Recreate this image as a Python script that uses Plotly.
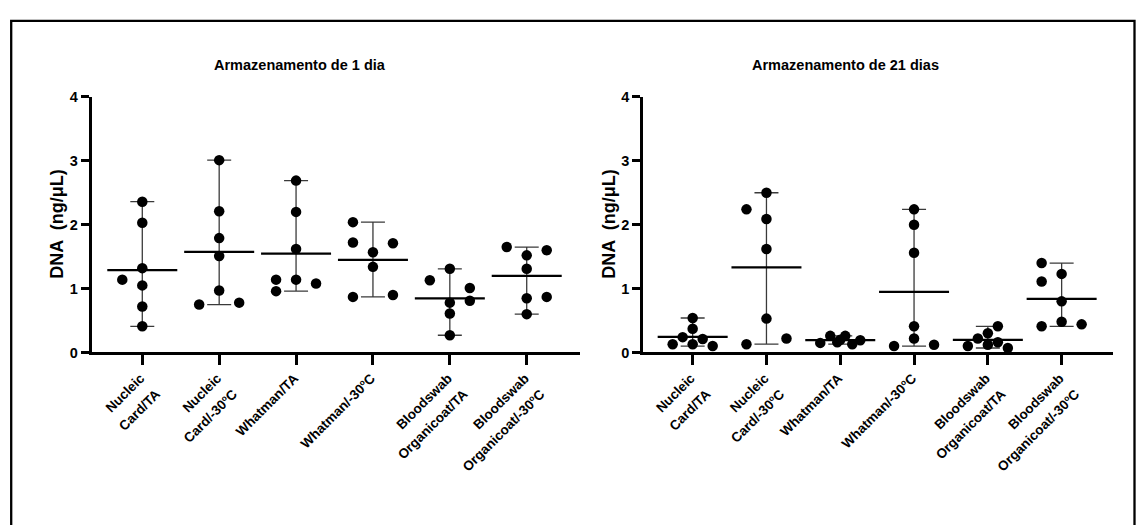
import plotly.graph_objects as go

# ---------------- data ----------------
categories = ["Nucleic<br>Card/TA", "Nucleic<br>Card/-30ºC", "Whatman/TA",
              "Whatman/-30ºC", "Bloodswab<br>Organicoat/TA", "Bloodswab<br>Organicoat/-30ºC"]

dna_1dia = [
    [2.36, 2.03, 1.32, 1.05, 0.72, 0.41, 1.14],
    [3.01, 2.21, 1.79, 1.51, 0.97, 0.75, 0.78],
    [2.69, 2.20, 1.62, 1.14, 1.14, 0.96, 1.08],
    [2.04, 1.72, 1.57, 1.34, 1.71, 0.87, 0.90],
    [1.31, 1.13, 1.01, 0.81, 0.78, 0.61, 0.27],
    [1.65, 1.60, 1.52, 1.31, 0.85, 0.87, 0.60],
]
dna_21dias = [
    [0.54, 0.37, 0.24, 0.21, 0.13, 0.13, 0.10],
    [2.50, 2.24, 2.09, 1.62, 0.53, 0.13, 0.22],
    [0.15, 0.26, 0.16, 0.26, 0.13, 0.19, 0.20],
    [2.24, 2.00, 1.56, 0.41, 0.22, 0.10, 0.12],
    [0.41, 0.30, 0.22, 0.16, 0.12, 0.10, 0.07],
    [1.40, 1.23, 1.11, 0.80, 0.41, 0.48, 0.44],
]

# scatter-dot column layout (dot columns, one column = 10 px)
cols_1dia = [
    [0, 0, 0, 0, 0, 0, -2],
    [0, 0, 0, 0, 0, -2, 2],
    [0, 0, 0, 0, -2, -2, 2],
    [-2, -2, 0, 0, 2, -2, 2],
    [0, -2, 2, 2, 0, 0, 0],
    [-2, 2, 0, 0, 0, 2, 0],
]
cols_21dias = [
    [0, 0, -1, 1, -2, 0, 2],
    [0, -2, 0, 0, 0, -2, 2],
    [-2, -1, -0.3, 0.5, 1.2, 2, 0],
    [0, 0, 0, 0, 0, -2, 2],
    [1, 0, -1, 1, 0, -2, 2],
    [-2, 0, -2, 0, -2, 0, 2],
]

titles = ["Armazenamento de 1 dia", "Armazenamento de 21 dias"]
y_title = "DNA  (ng/μL)"
y_ticks = [0, 1, 2, 3, 4]

# ---------------- layout constants ----------------
W, H = 1136, 525
FONT = "Liberation Sans, Arial, sans-serif"
LABEL_PX = 13.5      # glyph size of category labels
LABEL_LINE_PX = 17   # base size -> controls line spacing of two-line labels

def px_x(p):
    return p / W

def px_y(p):
    return 1 - p / H

panels = [
    dict(data=dna_1dia, cols=cols_1dia, xa="x", ya="y",
         dom=(91.7, 580.0), rng=(-0.658, 5.693), title_x=300, ytitle_x=57),
    dict(data=dna_21dias, cols=cols_21dias, xa="x2", ya="y2",
         dom=(643.3, 1113.3), rng=(-0.669, 5.700), title_x=845, ytitle_x=609),
]
y_dom = (px_y(355.3), px_y(91.7))

fig = go.Figure()

for p in panels:
    unit_px = (p["dom"][1] - p["dom"][0]) / (p["rng"][1] - p["rng"][0])
    col_w = 10.0 / unit_px
    for i, vals in enumerate(p["data"]):
        m = sum(vals) / len(vals)
        lo, hi = min(vals), max(vals)
        fig.add_trace(go.Scatter(
            x=[i], y=[m], xaxis=p["xa"], yaxis=p["ya"], mode="markers",
            marker=dict(symbol="line-ew", size=50, color="black",
                        line=dict(width=2.2, color="black")),
            error_y=dict(type="data", symmetric=False, array=[hi - m],
                         arrayminus=[m - lo], width=12, thickness=1.3,
                         color="#3a3a3a"),
            cliponaxis=False, showlegend=False, hoverinfo="skip"))
        xs = [i + c * col_w for c in p["cols"][i]]
        fig.add_trace(go.Scatter(
            x=xs, y=vals, xaxis=p["xa"], yaxis=p["ya"], mode="markers",
            marker=dict(symbol="circle", size=10.5, color="black",
                        line=dict(width=0)),
            cliponaxis=False, showlegend=False))

axis_common = dict(showgrid=False, zeroline=False, showline=True,
                   linecolor="black", linewidth=3, ticks="outside",
                   tickcolor="black", tickwidth=3)

ticktext = ["<br>".join("<span style='font-size:%spx'>%s</span>" % (LABEL_PX, part)
                        for part in c.split("<br>")) for c in categories]

for k, p in enumerate(panels):
    sfx = "" if k == 0 else "2"
    fig.update_layout(**{
        "xaxis" + sfx: dict(axis_common, domain=[px_x(p["dom"][0]), px_x(p["dom"][1])],
                            range=list(p["rng"]), tickmode="array",
                            tickvals=list(range(len(categories))), ticktext=ticktext,
                            ticklen=10, tickangle=-45, anchor="y" + sfx,
                            ticklabelstandoff=-4, ticklabelshift=-3,
                            tickfont=dict(family=FONT, size=LABEL_LINE_PX, color="black",
                                          weight="bold")),
        "yaxis" + sfx: dict(axis_common, domain=list(y_dom), range=[0, 4],
                            tickmode="array", tickvals=y_ticks,
                            ticktext=[str(t) for t in y_ticks], ticklen=8,
                            anchor="x" + sfx,
                            tickfont=dict(family=FONT, size=14.5, color="black", weight="bold")),
    })

annotations = []
for k, p in enumerate(panels):
    annotations.append(dict(text="<b>" + titles[k] + "</b>", xref="paper", yref="paper",
                            x=px_x(p["title_x"]), y=px_y(59), showarrow=False,
                            xanchor="center", yanchor="middle",
                            font=dict(family=FONT, size=14.5, color="black")))
    annotations.append(dict(text="<b>" + y_title + "</b>", xref="paper", yref="paper",
                            x=px_x(p["ytitle_x"]), y=(y_dom[0] + y_dom[1]) / 2,
                            showarrow=False, textangle=-90,
                            xanchor="center", yanchor="middle",
                            font=dict(family=FONT, size=18, color="black")))

fig.update_layout(
    width=W, height=H, margin=dict(l=0, r=0, t=0, b=0),
    paper_bgcolor="white", plot_bgcolor="white",
    annotations=annotations,
    shapes=[dict(type="rect", xref="paper", yref="paper",
                 x0=px_x(11.2), x1=px_x(1134.5), y0=px_y(540), y1=px_y(13.3),
                 line=dict(color="black", width=2.3), fillcolor="rgba(0,0,0,0)")],
)

fig.write_html("out.html")
